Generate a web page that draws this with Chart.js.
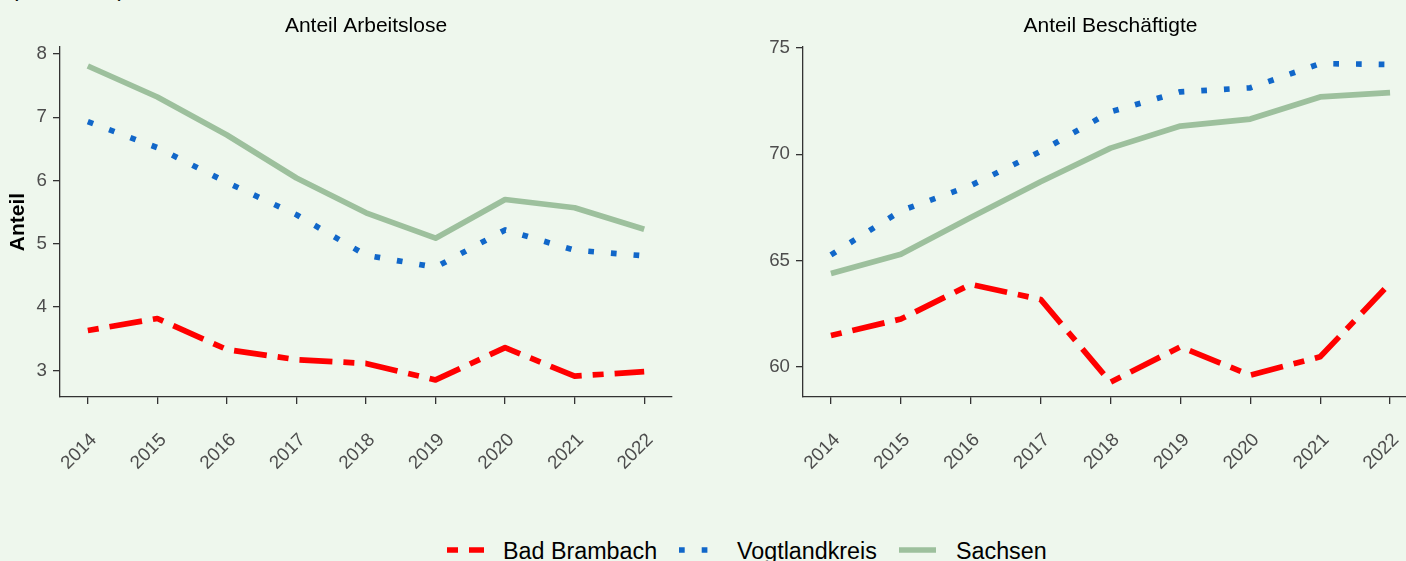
<!DOCTYPE html>
<html>
<head>
<meta charset="utf-8">
<script src="https://cdn.jsdelivr.net/npm/chart.js@4"></script>
<style>
  html, body { margin: 0; padding: 0; background: #EEF7ED; overflow: hidden; width: 1406px; height: 561px; }
  body { position: relative; font-family: "Liberation Sans", Arial, sans-serif; }
  canvas { position: absolute; top: 0; }
  #unit { position: absolute; left: 11px; top: -22.5px; font-size: 22px; line-height: 21px; color: #000; }
  .key { position: absolute; top: 546px; }
  .lab { position: absolute; top: 540px; font-size: 23.3px; line-height: 23px; color: #000; white-space: nowrap; }
</style>
</head>
<body>
<div id="unit">(in Prozent)</div>
<canvas id="left" width="732" height="500" style="left:0"></canvas>
<canvas id="right" width="781" height="500" style="left:720px"></canvas>

<canvas class="key" id="k0" width="38" height="8" style="left:447px"></canvas>
<div class="lab" style="left:503px">Bad Brambach</div>
<canvas class="key" id="k1" width="38" height="8" style="left:679px"></canvas>
<div class="lab" style="left:737px">Vogtlandkreis</div>
<canvas class="key" id="k2" width="38" height="8" style="left:899px"></canvas>
<div class="lab" style="left:956px">Sachsen</div>

<script>
const years = [2014, 2015, 2016, 2017, 2018, 2019, 2020, 2021, 2022];
const regions = ['Bad Brambach', 'Vogtlandkreis', 'Sachsen'];

// Anteil Arbeitslose
const alBadBrambach = [3.63, 3.82, 3.33, 3.17, 3.11, 2.85, 3.36, 2.91, 2.98];
const alVogtland    = [6.93, 6.52, 5.97, 5.46, 4.82, 4.63, 5.22, 4.90, 4.81];
const alSachsen     = [7.81, 7.32, 6.72, 6.04, 5.49, 5.09, 5.70, 5.57, 5.23];
const alTicks = [3, 4, 5, 6, 7, 8];

// Anteil Beschäftigte
const bsBadBrambach = [61.47, 62.25, 63.88, 63.17, 59.28, 60.94, 59.61, 60.47, 63.93];
const bsVogtland    = [65.27, 67.34, 68.53, 70.14, 72.00, 72.94, 73.13, 74.27, 74.23];
const bsSachsen     = [64.39, 65.30, 67.03, 68.71, 70.29, 71.33, 71.66, 72.70, 72.90];
const bsTicks = [60, 65, 70, 75];

const colors = ['#FF0000', '#1167C9', '#9DC09D'];
const dashes = [[11, 11, 33, 11], [5.7, 17], []];
const lw = 5.7;
const font = '"Liberation Sans", Arial, sans-serif';
const axisColor = '#333333';
const tickColor = '#4D4D4D';

function makeSets(series) {
  return series.map((vals, i) => ({
    label: regions[i],
    data: years.map((yr, j) => ({ x: yr, y: vals[j] })),
    borderColor: colors[i],
    borderWidth: lw,
    borderDash: dashes[i],
    borderCapStyle: 'butt',
    borderJoinStyle: 'round',
    pointRadius: 0,
    tension: 0,
    fill: false
  }));
}

function makeChart(id, title, series, ticks, yMin, yMax, yWidth, padRight, yTitle) {
  return new Chart(document.getElementById(id), {
    type: 'line',
    data: { datasets: makeSets(series) },
    options: {
      responsive: false,
      animation: false,
      layout: { padding: { left: 0, right: padRight, top: 0, bottom: 0 } },
      plugins: {
        legend: { display: false },
        tooltip: { enabled: false },
        title: {
          display: true,
          text: title,
          fullSize: false,
          color: '#000',
          font: { family: font, size: 21, weight: 'normal', lineHeight: 1.2 },
          padding: { top: 14, bottom: 7.8 }
        }
      },
      scales: {
        x: {
          type: 'linear',
          min: 2013.6,
          max: 2022.4,
          afterBuildTicks: s => { s.ticks = years.map(v => ({ value: v })); },
          afterFit: s => { s.height = 103; s.paddingLeft = 0; s.paddingRight = 0; },
          grid: { drawOnChartArea: false, drawTicks: true, tickLength: 7, color: axisColor, lineWidth: 1.3 },
          border: { display: true, color: axisColor, width: 1.3 },
          ticks: {
            autoSkip: false,
            minRotation: 45,
            maxRotation: 45,
            padding: 25,
            labelOffset: 6,
            color: tickColor,
            font: { family: font, size: 18.7 },
            callback: v => String(v)
          }
        },
        y: {
          type: 'linear',
          min: yMin,
          max: yMax,
          afterBuildTicks: s => { s.ticks = ticks.map(v => ({ value: v })); },
          afterFit: s => { s.width = yWidth; s.paddingTop = 0; s.paddingBottom = 0; },
          grid: { drawOnChartArea: false, drawTicks: true, tickLength: 7, color: axisColor, lineWidth: 1.3 },
          border: { display: true, color: axisColor, width: 1.3 },
          title: {
            display: !!yTitle,
            text: yTitle || '',
            color: '#000',
            font: { family: font, size: 21, weight: 'bold', lineHeight: 1.2 },
            padding: { top: 5.4, bottom: 0 }
          },
          ticks: {
            padding: 6,
            color: tickColor,
            font: { family: font, size: 18.7 },
            callback: v => String(v)
          }
        }
      }
    }
  });
}

makeChart('left', 'Anteil Arbeitslose', [alBadBrambach, alVogtland, alSachsen], alTicks, 2.58, 8.11, 60, 60, 'Anteil');
makeChart('right', 'Anteil Beschäftigte', [bsBadBrambach, bsVogtland, bsSachsen], bsTicks, 58.58, 75.05, 83, 83, '');

// legend keys
regions.forEach((r, i) => {
  const c = document.getElementById('k' + i).getContext('2d');
  c.strokeStyle = colors[i];
  c.lineWidth = lw;
  c.lineCap = 'butt';
  c.setLineDash(dashes[i]);
  c.beginPath();
  c.moveTo(0, 4);
  c.lineTo(37, 4);
  c.stroke();
});
</script>
</body>
</html>
